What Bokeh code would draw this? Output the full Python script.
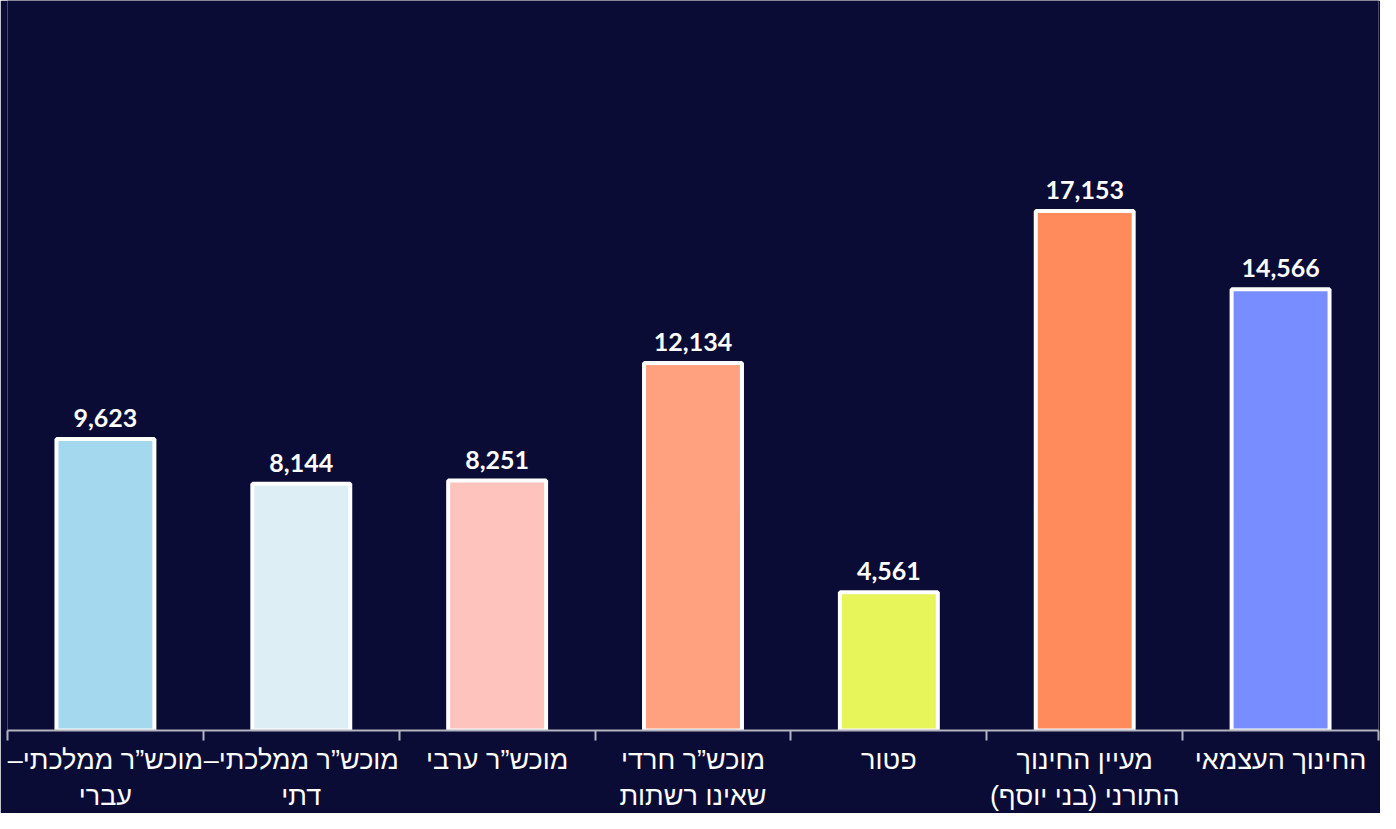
from bokeh.plotting import figure
from bokeh.models import FixedTicker, Range1d, ColumnDataSource
from bokeh.embed import file_html
from bokeh.resources import INLINE
from bokeh.core.properties import value

# ---- data ----
categories = [
    "מוכש”ר ממלכתי–\nעברי",
    "מוכש”ר ממלכתי–\nדתי",
    "מוכש”ר ערבי",
    "מוכש”ר חרדי\nשאינו רשתות",
    "פטור",
    "מעיין החינוך\nהתורני (בני יוסף)",
    "החינוך העצמאי",
]
values = [9623, 8144, 8251, 12134, 4561, 17153, 14566]
colors = ["#a3d8ee", "#ddeef5", "#ffc3be", "#ffa17f", "#e8f55a", "#ff8a5c", "#788dff"]

BG = "#0b0c35"
RLM = "\u200f"

xs = list(range(len(values)))
src = ColumnDataSource(dict(
    x=xs,
    top=values,
    color=colors,
    label=[f"{v:,}" for v in values],
))

p = figure(
    width=1380, height=813,
    x_range=Range1d(-0.5, len(values) - 0.5),
    y_range=Range1d(0, 24100),
    output_backend="svg", toolbar_location=None,
    y_axis_location=None,
    min_border_left=7, min_border_right=2, min_border_top=0, min_border_bottom=80,
)
p.background_fill_color = BG
p.border_fill_color = BG
p.outline_line_color = None
p.xgrid.visible = False
p.ygrid.visible = False

p.vbar(x="x", top="top", width=0.5, fill_color="color", line_color="white",
       line_width=4, source=src)

p.text(x="x", y="top", text="label", text_align="center", text_baseline="alphabetic",
       y_offset=-21, text_color="white", text_font=value("Lato"),
       text_font_style="bold", text_font_size="25px", source=src)

ax = p.xaxis[0]
ax.ticker = FixedTicker(ticks=xs, minor_ticks=[i - 0.5 for i in range(len(values) + 1)])
ax.major_label_overrides = {
    i: "\n".join(line + RLM for line in cat.split("\n")) for i, cat in zip(xs, categories)
}
ax.axis_line_color = "#b4b4c0"
ax.axis_line_width = 2
ax.major_tick_out = 0
ax.major_tick_in = 0
ax.minor_tick_out = 10
ax.minor_tick_in = 0
ax.minor_tick_line_color = "#b4b4c0"
ax.minor_tick_line_width = 2
ax.major_label_text_color = "white"
ax.major_label_text_font = "Liberation Sans"
ax.major_label_text_font_size = "27px"
ax.major_label_text_line_height = 1.2
ax.major_label_standoff = 4
ax.major_label_orientation = "horizontal"

open("out.html", "w").write(file_html(p, INLINE))
